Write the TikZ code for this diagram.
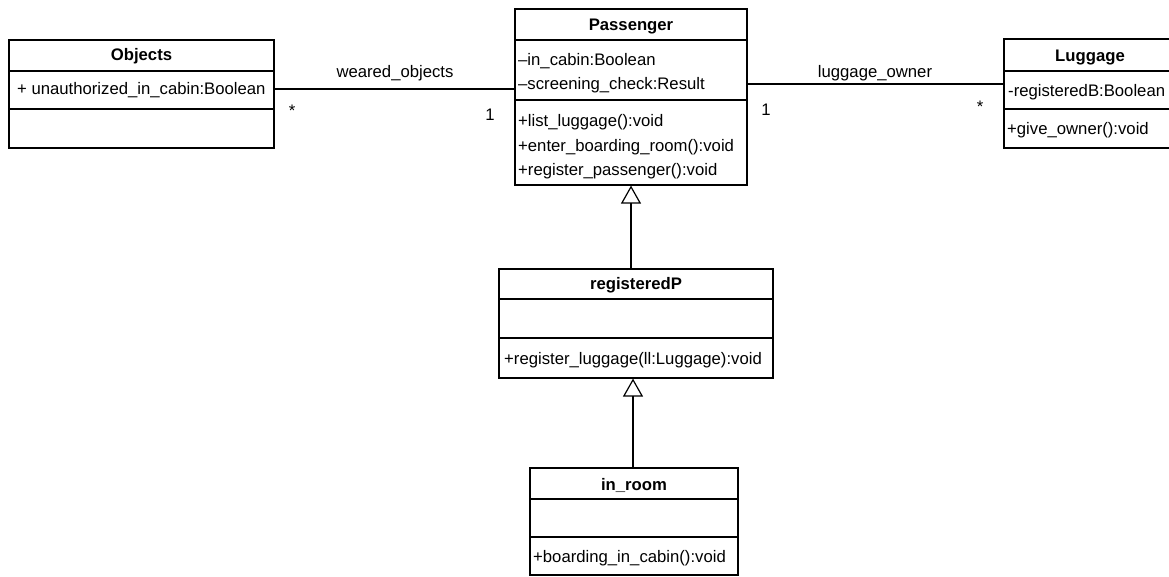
\documentclass[tikz,border=0pt]{standalone}
\usepackage{fontspec}
\setmainfont{Liberation Sans}
\usetikzlibrary{arrows.meta}
\begin{document}
\begin{tikzpicture}[x=1bp,y=-1bp,
  box/.style={draw, line width=1.2bp, inner sep=0pt},
  sep/.style={line width=1.2bp},
  title/.style={font=\fontsize{16.7bp}{20bp}\selectfont\bfseries, inner sep=0pt, text height=12bp, text depth=0pt},
  txt/.style={font=\fontsize{16.7bp}{20bp}\selectfont, inner sep=0pt, anchor=west, text height=12bp, text depth=0pt},
  lbl/.style={font=\fontsize{16.7bp}{20bp}\selectfont, inner sep=0pt, text height=12bp, text depth=0pt},
  assoc/.style={line width=1.2bp},
  gen/.style={line width=1.2bp, -{Triangle[open, length=18bp, width=20bp, line width=1.2bp]}}]
\useasboundingbox (0,0) rectangle (1169,577);
\clip (0,0) rectangle (1169,577);

% Objects
\node[box, minimum width=265bp, minimum height=108bp] (objects) at (141.5,94) {};
\draw[sep] (objects.west |- 0,71) -- (objects.east |- 0,71);
\draw[sep] (objects.west |- 0,109) -- (objects.east |- 0,109);
\node[title] (objectsT) at (141.5,55) {Objects};
\node[txt] (objA1) at (17,89) {+ unauthorized\_in\_cabin:Boolean};

% Passenger
\node[box, minimum width=232bp, minimum height=176bp] (passenger) at (631,97) {};
\draw[sep] (passenger.west |- 0,40) -- (passenger.east |- 0,40);
\draw[sep] (passenger.west |- 0,100) -- (passenger.east |- 0,100);
\node[title] (passengerT) at (631,25) {Passenger};
\node[txt] (pA1) at (518,60) {–in\_cabin:Boolean};
\node[txt] (pA2) at (518,84) {–screening\_check:Result};
\node[txt] (pM1) at (518,121) {+list\_luggage():void};
\node[txt] (pM2) at (518,146) {+enter\_boarding\_room():void};
\node[txt] (pM3) at (518,170) {+register\_passenger():void};

% Luggage
\node[box, minimum width=174bp, minimum height=109bp] (luggage) at (1091,93.5) {};
\draw[sep] (luggage.west |- 0,71) -- (luggage.east |- 0,71);
\draw[sep] (luggage.west |- 0,109) -- (luggage.east |- 0,109);
\node[title] (luggageT) at (1090,56) {Luggage};
\node[txt] (lA1) at (1008,91) {-registeredB:Boolean};
\node[txt] (lM1) at (1007,129) {+give\_owner():void};

% registeredP
\node[box, minimum width=274bp, minimum height=109bp] (regp) at (636,323.5) {};
\draw[sep] (regp.west |- 0,299) -- (regp.east |- 0,299);
\draw[sep] (regp.west |- 0,338) -- (regp.east |- 0,338);
\node[title] (regpT) at (636,284) {registeredP};
\node[txt] (rM1) at (504,358) {+register\_luggage(ll:Luggage):void};

% in_room
\node[box, minimum width=208bp, minimum height=107bp] (inroom) at (634,521.5) {};
\draw[sep] (inroom.west |- 0,499) -- (inroom.east |- 0,499);
\draw[sep] (inroom.west |- 0,537) -- (inroom.east |- 0,537);
\node[title] (inroomT) at (634,484) {in\_room};
\node[txt] (iM1) at (533,556) {+boarding\_in\_cabin():void};

% associations
\draw[assoc] (objects.east |- objA1) -- (passenger.west |- objA1);
\node[lbl] (wo) at (395,72) {weared\_objects};
\node[lbl] (woS) at (292,111) {*};
\node[lbl] (wo1) at (490,115) {1};

\draw[assoc] (passenger.east |- pA2) -- (luggage.west |- pA2);
\node[lbl] (lo) at (875,72) {luggage\_owner};
\node[lbl] (lo1) at (766,110) {1};
\node[lbl] (loS) at (980,107) {*};

% generalizations
\draw[gen] (passenger.south |- regp.north) -- (passenger.south);
\draw[gen] (inroom.north -| 633,0) -- (regp.south -| 633,0);
\end{tikzpicture}
\end{document}
